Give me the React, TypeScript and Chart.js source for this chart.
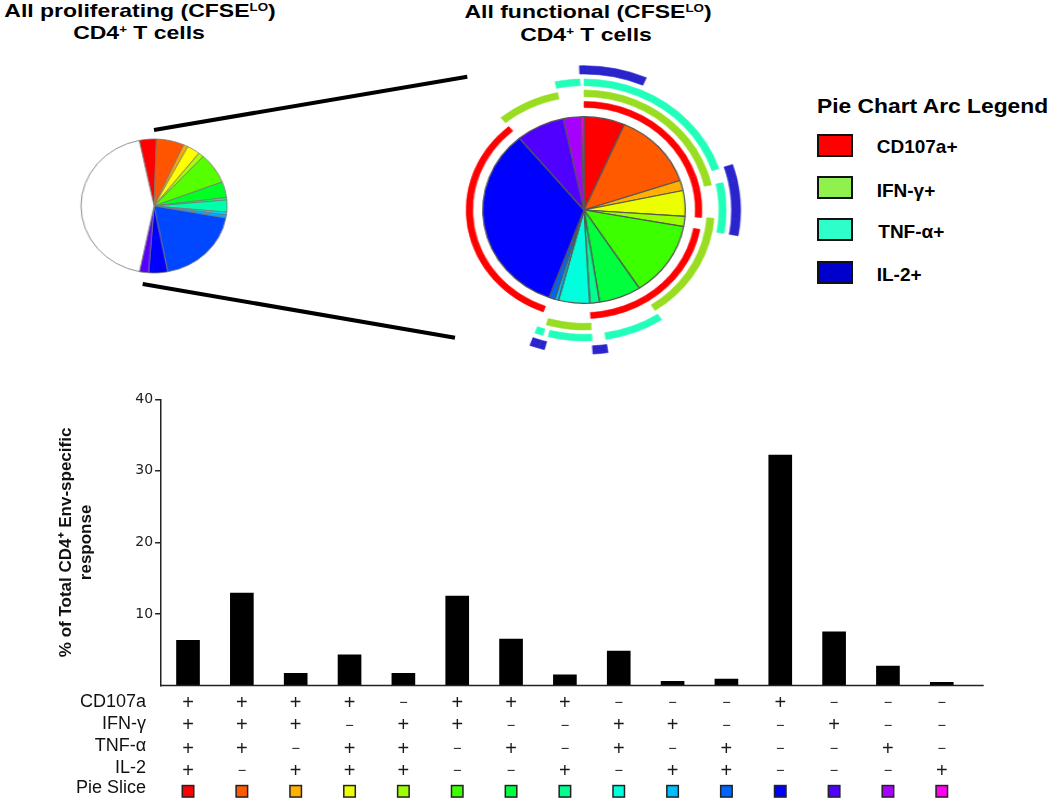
import React, { useEffect, useRef } from 'react';
import { Chart, registerables } from 'chart.js';
Chart.register(...registerables);
Chart.defaults.font.family = '"Liberation Sans", Arial, sans-serif';

// ---------- data ----------
const categories = ['++++', '+++−', '++−+', '+−++', '−+++', '++−−', '+−+−', '+−−+', '−++−', '−+−+', '−−++', '+−−−', '−+−−', '−−+−', '−−−+'];
const responseValues = [6.3, 12.9, 1.7, 4.3, 1.7, 12.5, 6.5, 1.5, 4.8, 0.6, 0.9, 32.2, 7.5, 2.7, 0.45];
const sliceColors = ['#ff0000', '#ff5a00', '#ffb000', '#ecff00', '#9cff00', '#3cff00', '#00ff3c', '#00ff8c', '#00ffdc', '#00beff', '#0064ff', '#0000ff', '#5000ff', '#a800ff', '#ff00f0'];

const markerNames = ['CD107a', 'IFN-γ', 'TNF-α', 'IL-2'];
const cd107aRow = ['+', '+', '+', '+', '−', '+', '+', '+', '−', '−', '−', '+', '−', '−', '−'];
const ifngRow = ['+', '+', '+', '−', '+', '+', '−', '−', '+', '+', '−', '−', '+', '−', '−'];
const tnfaRow = ['+', '+', '−', '+', '+', '−', '+', '−', '+', '−', '+', '−', '−', '+', '−'];
const il2Row = ['+', '−', '+', '+', '+', '−', '−', '+', '−', '+', '+', '−', '−', '−', '+'];
const markerRows = [cd107aRow, ifngRow, tnfaRow, il2Row];
const pieSliceRowLabel = 'Pie Slice';

const smallPieLabels = [...categories, 'non-functional'];
const smallPieValues = [3.8, 6.1, 1.0, 2.9, 1.2, 7.4, 3.8, 0.6, 2.9, 0.6, 0.8, 19.1, 4.2, 2.0, 43.5];
const smallPieColors = ['#ff0000', '#ff5500', '#ffaa00', '#ffff00', '#aaff00', '#55ff00', '#00ff22', '#00ff66', '#00ffaa', '#00ddff', '#00aaff', '#0048ff', '#0000ff', '#5500ff', '#ffffff'];

const arcLegendLabels = ['CD107a+', 'IFN-γ+', 'TNF-α+', 'IL-2+'];
const arcColors = ['#ff0000', '#99dd22', '#22ffbb', '#2a24cc'];
const legendColors = ['#ff0000', '#8ff04e', '#2effca', '#0000cc'];

const yAxisTitle = ['% of Total CD4⁺ Env-specific', 'response'];

// ---------- helpers ----------
const FONT = '"Liberation Sans", Arial, sans-serif';

function Txt(props: any) {
  const { x, baseline, size, scale = 1, align = 'left', bold = true, children } = props;
  const style: any = {
    position: 'absolute',
    top: baseline - 0.8465 * size,
    whiteSpace: 'nowrap',
    fontFamily: FONT,
    fontWeight: bold ? 'bold' : 'normal',
    fontSize: size,
    lineHeight: `${size}px`,
    color: '#000',
    transform: `scaleX(${scale})`,
  };
  if (align === 'center') {
    style.left = x - 300;
    style.width = 600;
    style.textAlign = 'center';
    style.transformOrigin = '50% 50%';
  } else {
    style.left = x;
    style.transformOrigin = '0 50%';
  }
  return <div style={style}>{children}</div>;
}

const Sup = ({ children, size = 11, raise = 6.5 }: any) => (
  <span style={{ fontSize: size, verticalAlign: `${raise}px`, lineHeight: 0 }}>{children}</span>
);

const tablePlugin = {
  id: 'signTable',
  afterDraw(chart: any) {
    const { ctx, chartArea } = chart;
    const x = chart.scales.x;
    const b = chartArea.bottom;
    ctx.save();
    // x axis line (extends past last category as in the figure)
    ctx.strokeStyle = '#222';
    ctx.lineWidth = 1.5;
    ctx.beginPath();
    ctx.moveTo(chartArea.left - 0.75, b);
    ctx.lineTo(chartArea.right + 15, b);
    ctx.stroke();

    const labelX = chartArea.left - 15;
    const labelBaselines = [21.5, 43.2, 65.5, 87.5, 107];
    const signCenters = [17.8, 40.2, 63.5, 85.5];
    ctx.fillStyle = '#111';
    ctx.textAlign = 'right';
    ctx.textBaseline = 'alphabetic';
    ctx.font = `18px ${FONT}`;
    markerNames.forEach((n, r) => ctx.fillText(n, labelX, b + labelBaselines[r]));
    ctx.fillText(pieSliceRowLabel, labelX, b + labelBaselines[4]);

    ctx.textAlign = 'center';
    ctx.textBaseline = 'middle';
    ctx.fillStyle = '#1a1a1a';
    markerRows.forEach((row, r) => {
      row.forEach((s, i) => {
        const px = x.getPixelForValue(i);
        if (s === '+') {
          ctx.font = `20px ${FONT}`;
          ctx.fillText('+', px, b + signCenters[r]);
        } else {
          ctx.font = `14.5px ${FONT}`;
          ctx.fillText('−', px, b + signCenters[r]);
        }
      });
    });
    // pie slice colour keys
    sliceColors.forEach((c, i) => {
      const px = x.getPixelForValue(i);
      const sz = 11.5;
      const cy = b + 105.8;
      ctx.fillStyle = c;
      ctx.fillRect(px - sz / 2, cy - sz / 2, sz, sz);
      ctx.strokeStyle = '#222';
      ctx.lineWidth = 1.5;
      ctx.strokeRect(px - sz / 2, cy - sz / 2, sz, sz);
    });
    ctx.restore();
  },
};

export default function App() {
  const smallRef = useRef<HTMLCanvasElement>(null);
  const bigRef = useRef<HTMLCanvasElement>(null);
  const barRef = useRef<HTMLCanvasElement>(null);

  useEffect(() => {
    const charts: Chart[] = [];

    // small pie
    charts.push(
      new Chart(smallRef.current as HTMLCanvasElement, {
        type: 'pie',
        data: {
          labels: smallPieLabels,
          datasets: [
            {
              data: smallPieValues,
              backgroundColor: smallPieColors,
              borderColor: '#777',
              borderWidth: 0.8,
              hoverOffset: 0,
            } as any,
          ],
        },
        options: {
          responsive: false,
          animation: false,
          events: [],
          radius: 67,
          rotation: -11.7,
          layout: { padding: 0 },
          plugins: { legend: { display: false }, tooltip: { enabled: false } },
        } as any,
      })
    );

    // big pie with marker arcs (outer -> inner: IL-2, TNF-α, IFN-γ, CD107a, slices)
    const ringOrder = [3, 2, 1, 0];
    const ringWeights = [8.3, 6.7, 6.7, 6];
    const gapWeights = [5, 4.3, 4.7, 9.3];
    const datasets: any[] = [];
    ringOrder.forEach((m, k) => {
      const cols = markerRows[m].map((s) => (s === '+' ? arcColors[m] : 'rgba(0,0,0,0)'));
      datasets.push({
        label: arcLegendLabels[m],
        data: responseValues,
        backgroundColor: cols,
        borderColor: cols,
        borderWidth: 0.6,
        weight: ringWeights[k],
        hoverOffset: 0,
      });
      datasets.push({
        label: 'gap',
        data: responseValues,
        backgroundColor: 'rgba(0,0,0,0)',
        borderWidth: 0,
        weight: gapWeights[k],
        hoverOffset: 0,
      });
    });
    datasets.push({
      label: 'slices',
      data: responseValues,
      backgroundColor: sliceColors,
      borderColor: '#555',
      borderWidth: 1.2,
      weight: 93.3,
      hoverOffset: 0,
    });
    charts.push(
      new Chart(bigRef.current as HTMLCanvasElement, {
        type: 'doughnut',
        data: { labels: categories, datasets },
        options: {
          responsive: false,
          animation: false,
          events: [],
          cutout: 0,
          radius: 144.3,
          rotation: 0,
          layout: { padding: 0 },
          plugins: { legend: { display: false }, tooltip: { enabled: false } },
        } as any,
      })
    );

    // bar chart
    charts.push(
      new Chart(barRef.current as HTMLCanvasElement, {
        type: 'bar',
        data: {
          labels: categories,
          datasets: [
            {
              data: responseValues,
              backgroundColor: '#000',
              borderWidth: 0,
              barThickness: 23,
            } as any,
          ],
        },
        options: {
          responsive: false,
          animation: false,
          events: [],
          layout: { padding: { top: 19.3, right: 81.3, left: 0, bottom: 0 } },
          plugins: { legend: { display: false }, tooltip: { enabled: false } },
          scales: {
            x: {
              type: 'category',
              grid: { display: false },
              ticks: { display: false },
              border: { display: false },
              afterFit: (s: any) => {
                s.height = 112.5;
              },
            },
            y: {
              min: 0,
              max: 40,
              ticks: {
                stepSize: 10,
                padding: 2,
                color: '#222',
                font: { family: '"DejaVu Sans", sans-serif', size: 14 },
                callback: (v: any) => (v === 0 ? '' : v),
              },
              grid: {
                drawOnChartArea: false,
                tickLength: 6,
                lineWidth: 1.5,
                color: (c: any) => (c.tick && c.tick.value === 0 ? 'rgba(0,0,0,0)' : '#222'),
                tickColor: (c: any) => (c.tick && c.tick.value === 0 ? 'rgba(0,0,0,0)' : '#222'),
              },
              border: { display: true, color: '#222', width: 1.5 },
              title: {
                display: true,
                text: yAxisTitle,
                color: '#111',
                font: { family: FONT, weight: 'bold', size: 17, lineHeight: 1.2 },
                padding: { top: 55.8, bottom: 0 },
              },
              afterFit: (s: any) => {
                s.width = 161.1;
              },
            },
          },
        } as any,
        plugins: [tablePlugin],
      })
    );

    return () => charts.forEach((c) => c.destroy());
  }, []);

  return (
    <div style={{ position: 'absolute', left: 0, top: 0, width: 1050, height: 798, background: '#fff', overflow: 'hidden' }}>
      {/* titles */}
      <Txt x={139.5} baseline={17} size={19} scale={1.21} align="center">
        All proliferating (CFSE<Sup>LO</Sup>)
      </Txt>
      <Txt x={138.5} baseline={39} size={19} scale={1.21} align="center">
        CD4<Sup>+</Sup> T cells
      </Txt>
      <Txt x={588} baseline={18.5} size={19} scale={1.21} align="center">
        All functional (CFSE<Sup>LO</Sup>)
      </Txt>
      <Txt x={586} baseline={41.5} size={19} scale={1.21} align="center">
        CD4<Sup>+</Sup> T cells
      </Txt>

      {/* zoom lines */}
      <svg width={1050} height={798} style={{ position: 'absolute', left: 0, top: 0, pointerEvents: 'none' }}>
        <line x1={154} y1={130} x2={467.3} y2={76.7} stroke="#000" strokeWidth={4} />
        <line x1={142.7} y1={284} x2={455} y2={337.7} stroke="#000" strokeWidth={4} />
      </svg>

      {/* small pie */}
      <div style={{ position: 'absolute', left: 83.7, top: 136.3, width: 140, height: 140, transform: 'scaleX(1.09)', transformOrigin: '50% 50%' }}>
        <canvas ref={smallRef} width={140} height={140} style={{ display: 'block' }} />
      </div>

      {/* big pie */}
      <div style={{ position: 'absolute', left: 433.8, top: 59.5, width: 300, height: 300, transform: 'scaleX(1.085)', transformOrigin: '50% 50%' }}>
        <canvas ref={bigRef} width={300} height={300} style={{ display: 'block' }} />
      </div>

      {/* arc legend */}
      <Txt x={817} baseline={113.3} size={19.5} scale={1.17}>
        Pie Chart Arc Legend
      </Txt>
      {arcLegendLabels.map((l, i) => {
        const boxTops = [134, 176, 218.3, 261];
        const baselines = [152.7, 197.3, 238.3, 281];
        return (
          <React.Fragment key={l}>
            <div
              style={{
                position: 'absolute',
                left: 817.3,
                top: boxTops[i],
                width: 35.4,
                height: 22.5,
                boxSizing: 'border-box',
                border: '2px solid #111',
                background: legendColors[i],
              }}
            />
            <Txt x={i === 2 ? 878.3 : 876.7} baseline={baselines[i]} size={19}>
              {l}
            </Txt>
          </React.Fragment>
        );
      })}

      {/* bar chart with sign table */}
      <div style={{ position: 'absolute', left: 0, top: 380, width: 1050, height: 418 }}>
        <canvas ref={barRef} width={1050} height={418} style={{ display: 'block' }} />
      </div>
    </div>
  );
}
